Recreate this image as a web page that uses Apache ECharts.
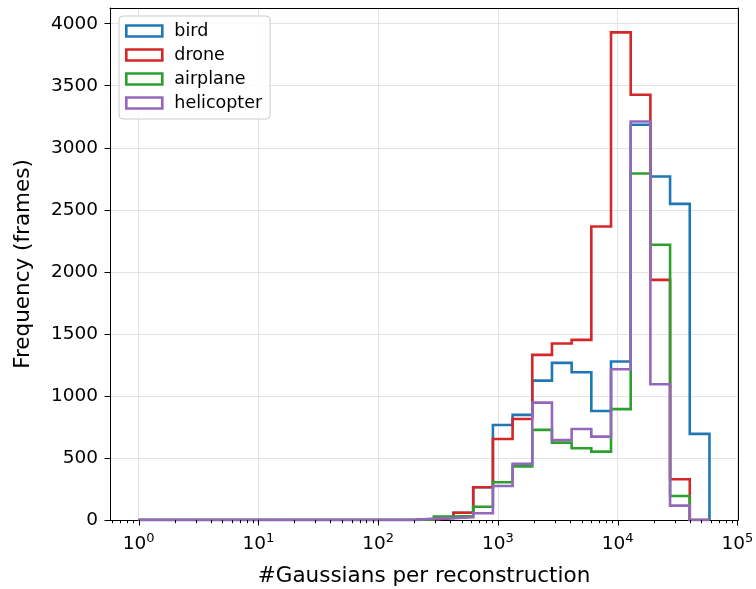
<!DOCTYPE html>
<html>
<head>
<meta charset="utf-8">
<script src="https://cdn.jsdelivr.net/npm/echarts@6/dist/echarts.min.js"></script>
<style>
  html, body { margin: 0; padding: 0; background: #fff; }
  #chart { width: 756px; height: 589px; }
</style>
</head>
<body>
<div id="chart"></div>
<script>
// Log-spaced histogram bin edges (#Gaussians), 29 bins from 1 to ~5.8e4
const binEdges = [
  1, 1.46, 2.13, 3.11, 4.54, 6.63, 9.69, 14.15, 20.65, 30.2,
  44.0, 64.3, 93.9, 137.1, 200.2, 292.3, 426.8, 623.1, 909.6, 1328,
  1939, 2831, 4134, 6035, 8812, 12866, 18785, 27428, 40046, 58479
];

// Frame counts per bin for each class
const birdCounts = [
  0, 0, 0, 0, 0, 0, 0, 0, 0, 0, 0, 0, 0, 0,
  5, 15, 59, 264, 766, 847, 1123, 1266, 1191, 878, 1277, 3185, 2769, 2548, 694
];
const droneCounts = [
  0, 0, 0, 0, 0, 0, 0, 0, 0, 0, 0, 0, 0, 0,
  5, 20, 59, 264, 653, 814, 1331, 1422, 1452, 2366, 3930, 3427, 1935, 328, 0
];
const airplaneCounts = [
  0, 0, 0, 0, 0, 0, 0, 0, 0, 0, 0, 0, 0, 0,
  5, 27, 32, 107, 304, 432, 726, 624, 578, 551, 894, 2793, 2218, 194, 0
];
const helicopterCounts = [
  0, 0, 0, 0, 0, 0, 0, 0, 0, 0, 0, 0, 0, 0,
  12, 15, 22, 54, 274, 452, 946, 645, 734, 672, 1215, 3212, 1094, 116, 0
];

const seriesNames = ['bird', 'drone', 'airplane', 'helicopter'];
const seriesColors = ['#1f77b4', '#d62728', '#2ca02c', '#9467bd'];
const seriesCounts = [birdCounts, droneCounts, airplaneCounts, helicopterCounts];

const yTickValues = [0, 500, 1000, 1500, 2000, 2500, 3000, 3500, 4000];
const xMajorTicks = [1, 10, 100, 1000, 10000, 100000];
const xMinorTicks = [];
[0.1, 1, 10, 100, 1000, 10000].forEach(function (d) {
  for (let m = 2; m <= 9; m++) {
    const v = +(m * d).toPrecision(3);
    if (v > 0.58) xMinorTicks.push(v);
  }
});

const FONT = 'DejaVu Sans';

// Outline of a step histogram: up at the first edge, across each bin, down at the last edge
function stepOutline(edges, counts) {
  const pts = [[edges[0], 0]];
  for (let i = 0; i < counts.length; i++) {
    pts.push([edges[i], counts[i]]);
    pts.push([edges[i + 1], counts[i]]);
  }
  pts.push([edges[counts.length], 0]);
  return pts;
}

// Axis limits with a 5% margin around the data
const logLo = Math.log10(binEdges[0]);
const logHi = Math.log10(binEdges[binEdges.length - 1]);
const xMin = Math.pow(10, logLo - 0.05 * (logHi - logLo));
const xMax = Math.pow(10, logHi + 0.05 * (logHi - logLo));
const yMax = 1.05 * Math.max.apply(null, droneCounts);

const histSeries = seriesNames.map(function (name, i) {
  return {
    name: name,
    type: 'line',
    data: stepOutline(binEdges, seriesCounts[i]),
    showSymbol: false,
    symbol: 'none',
    color: seriesColors[i],
    lineStyle: { width: 2.6, color: seriesColors[i], join: 'miter', cap: 'butt' },
    z: 3 + i,
    animation: false
  };
});

// Major and minor tick marks on the log x axis
const tickData = xMajorTicks.map(function (v) { return [v, 0, 5.5]; })
  .concat(xMinorTicks.map(function (v) { return [v, 0, 3.2]; }));

const tickSeries = {
  type: 'custom',
  data: tickData,
  clip: false,
  silent: true,
  z: 10,
  animation: false,
  encode: { x: 0, y: 1 },
  renderItem: function (params, api) {
    const p = api.coord([api.value(0), 0]);
    const x = Math.round(p[0]) + 0.5;
    return {
      type: 'line',
      shape: { x1: x, y1: p[1], x2: x, y2: p[1] + api.value(2) },
      style: { stroke: '#000', lineWidth: 1 }
    };
  }
};

// Plain frame lines for the top and right sides of the plot box
function frameOnly(extra) {
  return Object.assign({
    axisLine: { show: true, onZero: false, lineStyle: { color: '#000', width: 1 } },
    axisTick: { show: false },
    axisLabel: { show: false },
    splitLine: { show: false }
  }, extra);
}

const chart = echarts.init(document.getElementById('chart'), null, { renderer: 'canvas' });

chart.setOption({
  backgroundColor: '#fff',
  animation: false,
  grid: { left: 110, right: 18, top: 8, bottom: 69, outerBoundsMode: 'none', containLabel: false },
  legend: {
    orient: 'vertical',
    left: 119, top: 16,
    padding: [6, 8, 7, 6],
    itemWidth: 36, itemHeight: 11, itemGap: 6,
    backgroundColor: 'rgba(255,255,255,0.85)',
    borderColor: '#cccccc', borderWidth: 1, borderRadius: 4,
    textStyle: { fontFamily: FONT, fontSize: 17.5, color: '#000', lineHeight: 18, padding: [0, 0, 0, 7] },
    data: seriesNames.map(function (n, i) {
      return {
        name: n,
        icon: 'rect',
        itemStyle: { color: '#ffffff', borderColor: seriesColors[i], borderWidth: 2.6 }
      };
    })
  },
  xAxis: [{
    type: 'log',
    logBase: 10,
    min: xMin,
    max: xMax,
    name: '#Gaussians per reconstruction',
    nameLocation: 'middle',
    nameGap: 45,
    nameTextStyle: { fontFamily: FONT, fontSize: 21.5, color: '#000' },
    axisLine: { show: true, onZero: false, lineStyle: { color: '#000', width: 1 } },
    axisTick: { show: false },
    minorTick: { show: false },
    splitLine: { show: true, lineStyle: { color: '#e3e3e3', width: 1 } },
    axisLabel: {
      margin: 12,
      showMinLabel: false,
      showMaxLabel: false,
      formatter: function (v) {
        const l = Math.log10(v);
        const e = Math.round(l);
        if (Math.abs(l - e) > 1e-6) return '';
        return '{b|10}{s|' + e + '}';
      },
      rich: {
        b: { fontFamily: FONT, fontSize: 18.5, color: '#000', verticalAlign: 'bottom' },
        s: { fontFamily: FONT, fontSize: 13, color: '#000', verticalAlign: 'bottom', padding: [0, 0, 9, 0] }
      }
    }
  }, frameOnly({ type: 'log', logBase: 10, min: xMin, max: xMax, position: 'top' })],
  yAxis: [{
    type: 'value',
    min: 0,
    max: yMax,
    interval: 500,
    name: 'Frequency (frames)',
    nameLocation: 'middle',
    nameGap: 76,
    nameRotate: 90,
    nameTextStyle: { fontFamily: FONT, fontSize: 21.5, color: '#000' },
    axisLine: { show: true, onZero: false, lineStyle: { color: '#000', width: 1 } },
    axisTick: { show: true, length: 5.5, customValues: yTickValues, lineStyle: { color: '#000', width: 1 } },
    splitLine: { show: true, lineStyle: { color: '#e3e3e3', width: 1 } },
    axisLabel: {
      margin: 12,
      customValues: yTickValues,
      formatter: function (v) { return String(v); },
      fontFamily: FONT, fontSize: 18.5, color: '#000'
    }
  }, frameOnly({ type: 'value', min: 0, max: yMax, position: 'right' })],
  series: histSeries.concat([tickSeries])
});
</script>
</body>
</html>
